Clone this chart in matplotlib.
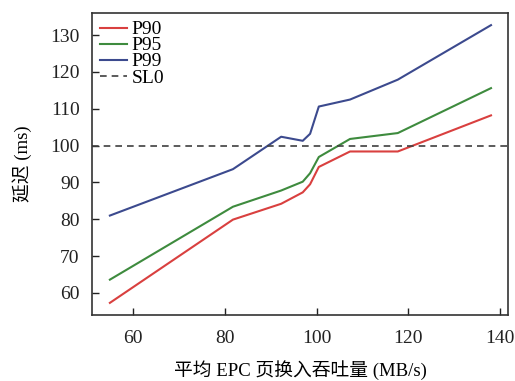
import matplotlib
matplotlib.use("Agg")
import matplotlib.pyplot as plt

# ── Data ──────────────────────────────────────────────────────────────────────
x_vals = [55, 81.8, 92.3, 97.0, 98.6, 100.5, 107.3, 117.7, 138]
p90 = [57.3, 79.9, 84.2, 87.3, 89.5, 94.2, 98.4, 98.4, 108.2]
p95 = [63.6, 83.4, 87.8, 90.2, 92.5, 96.9, 101.8, 103.4, 115.6]
p99 = [81.0, 93.6, 102.4, 101.3, 103.2, 110.6, 112.5, 117.9, 132.7]
slo = 100

x_ticks = [60, 80, 100, 120, 140]
y_ticks = [60, 70, 80, 90, 100, 110, 120, 130]

plt.rcParams["font.family"] = ["Liberation Serif", "Noto Sans CJK SC"]

fig = plt.figure(figsize=(5.15, 3.81), dpi=100)
ax = fig.add_axes([0.1786, 0.1732, 0.8078, 0.7927])

ax.plot(x_vals, p90, color="#d9403f", lw=1.5, label="P90")
ax.plot(x_vals, p95, color="#3e8b3e", lw=1.5, label="P95")
ax.plot(x_vals, p99, color="#3c4a8e", lw=1.5, label="P99")
ax.axhline(slo, color="#404040", lw=1.2, ls=(0, (4, 3)), label="SL0")

ax.set_xlim(51.1, 141.7)
ax.set_ylim(54.0, 136.0)
ax.set_xticks(x_ticks)
ax.set_yticks(y_ticks)
ax.tick_params(direction="in", length=5, width=1, labelsize=14, colors="#222222")
ax.tick_params(axis="x", pad=11)
ax.tick_params(axis="y", pad=9)
for s in ax.spines.values():
    s.set_color("#333333")
    s.set_linewidth(1.2)

ax.set_xlabel("平均 EPC 页换入吞吐量 (MB/s)", fontsize=13.5, labelpad=9)
ax.set_ylabel("延迟 (ms)", fontsize=13.5, labelpad=13)

ax.legend(loc="upper left", frameon=False, fontsize=14, handlelength=1.4,
          handletextpad=0.25, labelspacing=-0.08, borderaxespad=0.2,
          borderpad=0.2)

fig.savefig("out.png", dpi=100)
